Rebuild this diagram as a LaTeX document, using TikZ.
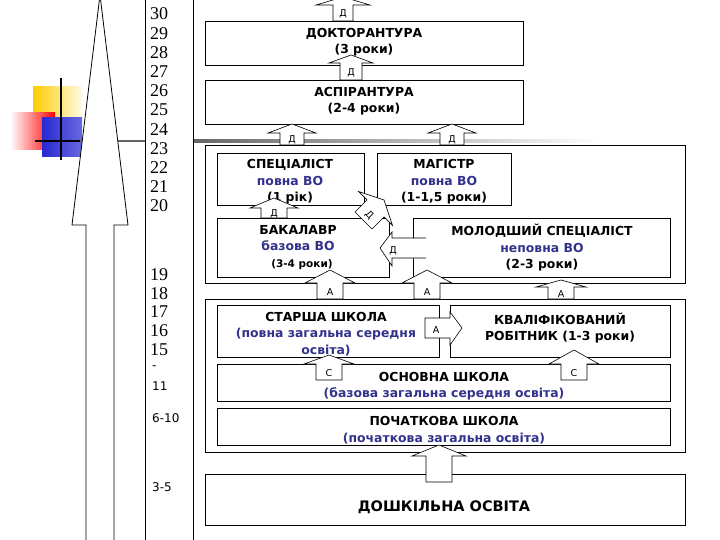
\documentclass[tikz,border=0pt]{standalone}
\usepackage{fontspec}
\setmainfont{DejaVu Sans}
\newfontfamily\numfont{Liberation Serif}
\definecolor{vblue}{RGB}{50,50,140}
\definecolor{ygold}{RGB}{255,204,0}
\definecolor{sqblue}{RGB}{40,40,210}
\tikzset{
 box/.style={draw=black,fill=white,line width=0.8pt},
 arr/.style={draw=black,fill=white,line width=0.6pt},
 lab/.style={font=\fontsize{9.5}{10}\selectfont,inner sep=0pt},
 btxt/.style={font=\bfseries\fontsize{12.4}{16.5}\selectfont,align=center,inner sep=0pt},
 num/.style={font=\numfont\fontsize{18}{18}\selectfont,anchor=west,inner sep=0pt},
 snum/.style={font=\fontsize{12}{12}\selectfont,anchor=west,inner sep=0pt}
}
\newcommand\blkup[7]{%
 \draw[arr] (#1-#5,#2) -- (#1-#5,#3) -- (#1-#6,#3) -- (#1,#4) -- (#1+#6,#3) -- (#1+#5,#3) -- (#1+#5,#2) -- cycle;
 \node[lab] at (#1,{(#2+#3)/2+1}) {#7};}
\begin{document}
\begin{tikzpicture}[x=1pt,y=-1pt]
\useasboundingbox (0,0) rectangle (720,540);
% decoration
\shade[left color=ygold,right color=ygold!10] (33,87) rectangle (82,120);
\shade[left color=white,right color=red] (10,113) rectangle (55,150);
\shade[left color=sqblue,right color=sqblue!70] (42,118) rectangle (82,157);
\draw[line width=1.6pt] (61,78) -- (61,160);
\draw[line width=1.6pt] (35,141) -- (80,141);
\draw[line width=2.5pt,black!60] (80,141) -- (145,141);
\shade[left color=black!60,right color=white] (193,139.7) rectangle (600,142.3);
% big arrow
\draw[arr,line width=0.8pt] (86,545) -- (86,225) -- (72,225) -- (100,-5) -- (128,225) -- (114,225) -- (114,545);
% number column
\draw[box] (145,-2) rectangle (193,542);
\foreach \n [count=\i from 0] in {30,29,28,27,26,25,24,23,22,21,20}
  \node[num] (n\n) at (150,{14+\i*19.2}) {\n};
\foreach \n/\y in {19/275,18/294,17/312,16/331,15/350}
  \node[num] (n\n) at (150,\y) {\n};
\node[snum] (dash) at (152,368) {-};
\node[snum] (n11) at (152,386) {11};
\node[snum] (n610) at (152,418) {6-10};
\node[snum] (n35) at (152,487) {3-5};
% frames and boxes
\draw[box] (205,21) rectangle (523,65);
\node[btxt] (doc) at (364,42) {ДОКТОРАНТУРА\\(3 роки)};
\draw[box] (205,80) rectangle (523,124);
\node[btxt] (asp) at (364,101) {АСПІРАНТУРА\\(2-4 роки)};
\draw[box] (205,145) rectangle (685,283);
\draw[box] (217,153) rectangle (364,205);
\node[btxt] (spec) at (290,182) {СПЕЦІАЛІСТ\\\textcolor{vblue}{повна ВО}\\(1 рік)};
\draw[box] (377,153) rectangle (511,205);
\node[btxt] (mag) at (444,182) {МАГІСТР\\\textcolor{vblue}{повна ВО}\\(1-1,5 роки)};
\draw[box] (217,218) rectangle (389,277);
\node[btxt] (bak) at (298,238) {БАКАЛАВР\\\textcolor{vblue}{базова ВО}};
\node[btxt,font=\bfseries\fontsize{10.5}{12}\selectfont] (bak2) at (302,265) {(3-4 роки)};
\draw[box] (413,218) rectangle (670,277);
\node[btxt] (mol) at (542,248) {МОЛОДШИЙ СПЕЦІАЛІСТ\\\textcolor{vblue}{неповна ВО}\\(2-3 роки)};
\draw[box] (205,299) rectangle (685,452);
\draw[box] (217,305) rectangle (439,357);
\node[btxt] (st) at (326,334) {СТАРША ШКОЛА\\\textcolor{vblue}{(повна загальна середня}\\\textcolor{vblue}{освіта)}};
\draw[box] (450,305) rectangle (670,357);
\node[btxt] (kv) at (560,328) {КВАЛІФІКОВАНИЙ\\РОБІТНИК (1-3 роки)};
\draw[box] (217,364) rectangle (670,401);
\node[btxt] (osn) at (444,386) {ОСНОВНА ШКОЛА\\\textcolor{vblue}{(базова загальна середня освіта)}};
\draw[box] (217,408) rectangle (670,445);
\node[btxt] (poch) at (444,430) {ПОЧАТКОВА ШКОЛА\\\textcolor{vblue}{(початкова загальна освіта)}};
\draw[box] (205,474) rectangle (685,525);
\node[btxt,font=\bfseries\fontsize{14.5}{16}\selectfont] (dosh) at (444,507) {ДОШКІЛЬНА ОСВІТА};
% block arrows
\blkup{343}{21}{5}{-3}{10}{27}{Д}
\blkup{351}{80}{63}{55}{11}{22}{Д}
\blkup{292}{145}{133}{124}{12}{24}{Д}
\blkup{452}{145}{133}{124}{12}{24}{Д}
\blkup{274}{218}{208}{198}{13}{24}{Д}
\begin{scope}[shift={(372,212)},rotate=-45]
 \draw[arr] (-12,12) -- (-12,-5) -- (-24,-5) -- (0,-17) -- (24,-5) -- (12,-5) -- (12,12) -- cycle;
 \node[lab,rotate=-45] (dd) at (0,4) {Д};
\end{scope}
\draw[arr] (426,238) -- (392,238) -- (392,232) -- (380,248) -- (392,266) -- (392,258) -- (426,258);
\node[lab] (dl) at (393,251) {Д};
\blkup{330}{299}{283}{270}{13}{25}{А}
\blkup{427}{299}{283}{270}{13}{25}{А}
\blkup{561}{299}{287}{280}{13}{25}{А}
\draw[arr] (425,318) -- (450,318) -- (450,312) -- (462,328) -- (450,345) -- (450,338) -- (425,338) -- cycle;
\node[lab] (ar) at (436,330) {А};
\blkup{329}{380}{364}{355}{13}{25}{С}
\blkup{574}{380}{364}{350}{13}{25}{С}
\blkup{439}{482}{456}{445}{13}{27}{}
\end{tikzpicture}
\end{document}
